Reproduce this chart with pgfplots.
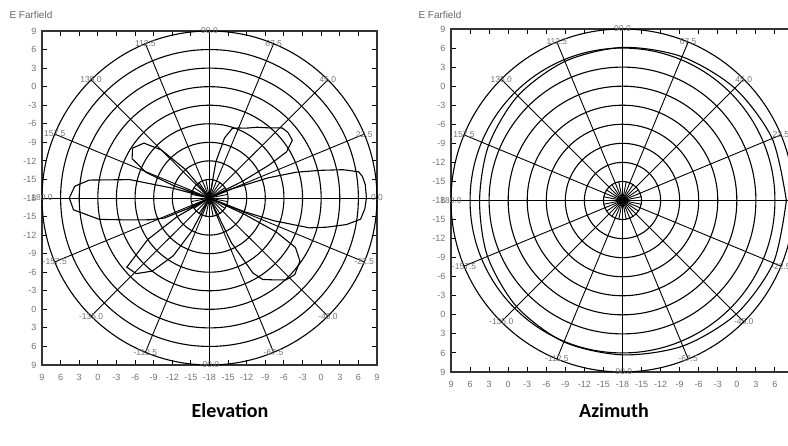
\documentclass[border=0pt]{standalone}
\usepackage{fontspec}
\setmainfont{Liberation Sans}
\newfontfamily\calfont{Carlito}
\usepackage{pgfplots}
\usepackage{pgfplotstable}
\pgfplotsset{compat=1.18}

\pgfplotstableread{
a db
0 7.3
5 7.2
8 6.9
10 6.4
12 4.0
14 0.5
16.6 -3.4
19 -8
22 -14
24 -18
27 -12
29 -7
31 -3.5
35 -1.7
40 -1.5
44 -1.7
50 -3.2
56 -4.2
62 -5.2
68 -5.8
72 -6.2
76 -8
80 -12
84 -18
125 -18
130 -12
135 -7
140 -4.2
147 -3.2
153 -4
158 -7
161 -12
163 -18
165 -12
167 -4.8
171.5 1.6
175 3.8
180 4.6
185 4.0
191 0.1
195 -4.3
200 -7.7
204 -10
206 -14
207.5 -18
210 -12
214 -6
220 -0.6
226 -1
232 -3
238 -7
242 -12
246 -18
292 -18
296 -10
300 -4
303 -2.3
308 -1.2
313 0.1
318 0.5
325 -0.2
330 -2
333 -6
335 -12
336.5 -18
338.5 -12
340.5 -7
343.3 -1.2
346 1.5
349 4.5
352 6.6
356 7.1
360 7.3
}\elev

\pgfplotstableread{
a db
0 7.8
22.5 7.5
45 7.0
67.5 6.5
90 6.1
112.5 5.7
135 5.3
157.5 4.8
180 4.5
202.5 5.0
225 5.6
247.5 6.1
270 6.3
292.5 6.8
315 7.3
337.5 7.7
360 7.8
}\azim

\pgfplotsset{polbase/.style={
  scale only axis, anchor=south west,
  xmin=-27, xmax=27, ymin=-27, ymax=27,
  xtick={-27,-24,-21,-18,-15,-12,-9,-6,-3,0,3,6,9,12,15,18,21,24,27},
  ytick={-27,-24,-21,-18,-15,-12,-9,-6,-3,0,3,6,9,12,15,18,21,24,27},
  xticklabels={9,6,3,0,-3,-6,-9,-12,-15,-18,-15,-12,-9,-6,-3,0,3,6,9},
  yticklabels={9,6,3,0,-3,-6,-9,-12,-15,-18,-15,-12,-9,-6,-3,0,3,6,9},
  tick align=inside, major tick length=5pt,
  every tick/.style={black, line width=0.9pt},
  axis line style={black!80, line width=1.4pt},
  tick label style={font=\fontsize{9}{9}\selectfont, text=black!55},
  xticklabel style={yshift=-6pt},
  yticklabel style={xshift=-2pt},
  clip=false,
}}

\newcommand\anglab[2]{\node[text=black!55, font=\fontsize{8.5}{8.5}\selectfont] at (axis cs:{27*cos(#1)},{27*sin(#1)}) {#2};}

\newcommand\polargrid{%
  \pgfplotsinvokeforeach{3,6,9,12,15,18,21,24,27}{\draw[black, line width=1.1pt] (axis cs:0,0) circle[radius=##1];}
  \pgfplotsinvokeforeach{0,22.5,45,67.5,90,112.5,135,157.5,180,202.5,225,247.5,270,292.5,315,337.5}{\draw[black, line width=0.9pt] (axis cs:0,0) -- (axis cs:{27*cos(##1)},{27*sin(##1)});}
  \pgfplotsinvokeforeach{11.25,33.75,56.25,78.75,101.25,123.75,146.25,168.75,191.25,213.75,236.25,258.75,281.25,303.75,326.25,348.75}{\draw[black, line width=0.9pt] (axis cs:0,0) -- (axis cs:{3*cos(##1)},{3*sin(##1)});}
  \anglab{0}{0.0}\anglab{22.5}{22.5}\anglab{45}{45.0}\anglab{67.5}{67.5}
  \anglab{90}{90.0}\anglab{112.5}{112.5}\anglab{135}{135.0}\anglab{157.5}{157.5}
  \anglab{180}{180.0}\anglab{202.5}{-157.5}\anglab{225}{-135.0}\anglab{247.5}{-112.5}
  \anglab{270}{-90.0}\anglab{292.5}{-67.5}\anglab{315}{-45.0}\anglab{337.5}{-22.5}
}

\begin{document}
\begin{tikzpicture}[x=1pt,y=1pt]
\useasboundingbox (0,0) rectangle (788,446);
\clip (0,0) rectangle (788,446);

\begin{axis}[polbase, at={(42pt,81pt)}, width=335pt, height=334pt]
\polargrid
\addplot[black, line width=1.1pt] table[x expr={(\thisrow{db}+18)*cos(\thisrow{a})}, y expr={(\thisrow{db}+18)*sin(\thisrow{a})}] {\elev};
\end{axis}

\begin{axis}[polbase, at={(451pt,74pt)}, width=343pt, height=343pt]
\polargrid
\addplot[black, line width=1.1pt, smooth] table[x expr={(\thisrow{db}+18)*cos(\thisrow{a})}, y expr={(\thisrow{db}+18)*sin(\thisrow{a})}] {\azim};
\end{axis}

\node[anchor=west, text=black!60, font=\fontsize{10}{10}\selectfont] at (6,431) {E Farfield};
\node[anchor=west, text=black!60, font=\fontsize{10}{10}\selectfont] at (415,431) {E Farfield};
\node[font=\calfont\bfseries\fontsize{20}{20}\selectfont] at (230,35) {Elevation};
\node[font=\calfont\bfseries\fontsize{20}{20}\selectfont] at (614,35) {Azimuth};
\end{tikzpicture}
\end{document}
